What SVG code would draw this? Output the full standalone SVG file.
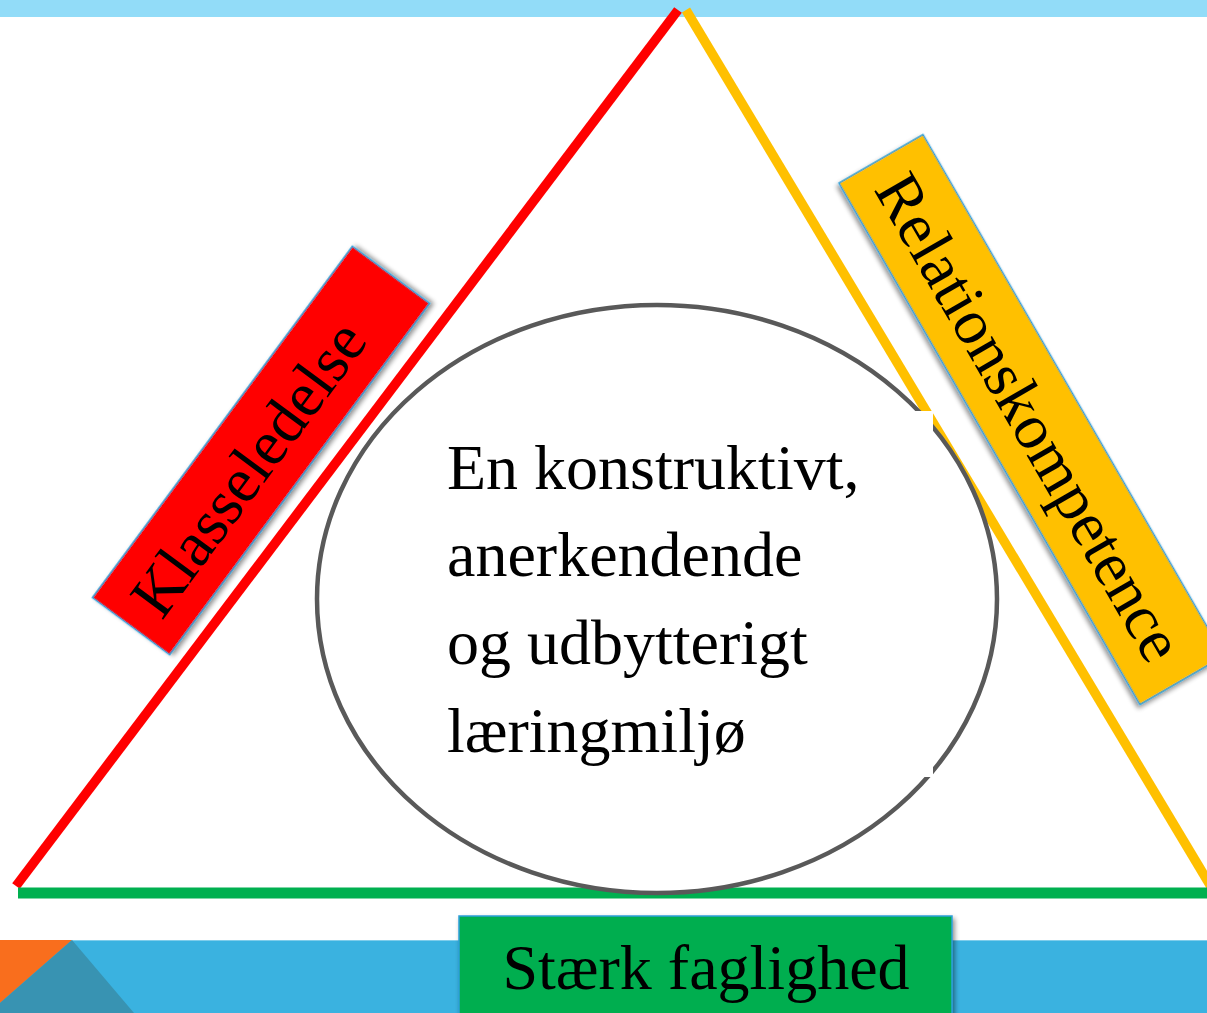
<svg xmlns="http://www.w3.org/2000/svg" width="1207" height="1013" viewBox="0 0 1207 1013">
  <defs>
    <filter id="shadow" x="-10%" y="-10%" width="130%" height="130%">
      <feGaussianBlur in="SourceAlpha" stdDeviation="2.5"/>
      <feOffset dx="2" dy="3" result="b"/>
      <feComponentTransfer><feFuncA type="linear" slope="0.45"/></feComponentTransfer>
      <feMerge><feMergeNode/><feMergeNode in="SourceGraphic"/></feMerge>
    </filter>
  </defs>
  <style>
    .lbl { font-family: "Liberation Serif", "Times New Roman", serif; font-size: 64px; fill: #000000; }
    .box { stroke: #2E9FD9; stroke-width: 1.5; }
    .side { fill: none; stroke-linecap: butt; }
  </style>
  <rect x="0" y="0" width="1207" height="1013" fill="#FFFFFF"/>
  <g id="background">
    <rect x="0" y="0" width="1207" height="17" fill="#92DCF8"/>
    <rect x="0" y="940" width="1207" height="73" fill="#3AB2E0"/>
    <line x1="0" y1="940.5" x2="1207" y2="940.5" stroke="#7FCDEB" stroke-width="1"/>
    <polygon points="0,940 72,940 0,1003" fill="#F96E1D"/>
    <polygon points="72,940 134,1013 0,1013 0,1003" fill="#3893B2"/>
  </g>
  <g id="connectors">
    <line class="side" x1="678" y1="10" x2="16" y2="886" stroke="#FF0000" stroke-width="9.5"/>
    <line class="side" x1="686" y1="10" x2="1213" y2="890" stroke="#FFC000" stroke-width="9.5"/>
    <line class="side" x1="18" y1="893" x2="1207" y2="893" stroke="#00B050" stroke-width="11"/>
  </g>
  <g id="center-node">
    <ellipse cx="657" cy="599" rx="340" ry="294" fill="#FFFFFF" stroke="#595959" stroke-width="4.5"/>
    <rect x="435" y="411" width="498" height="366" fill="#FFFFFF"/>
    <text class="lbl" x="447">
      <tspan x="447" y="489">En konstruktivt,</tspan>
      <tspan x="447" y="576">anerkendende</tspan>
      <tspan x="447" y="664">og udbytterigt</tspan>
      <tspan x="447" y="752">læringmiljø</tspan>
    </text>
  </g>
  <g id="klasseledelse" transform="translate(261 450.5) rotate(-53.5)">
    <rect class="box" x="-218.5" y="-48" width="437" height="96" fill="#FF0000" filter="url(#shadow)"/>
    <text class="lbl" x="-22" y="22" text-anchor="middle">Klasseledelse</text>
  </g>
  <g id="relationskompetence" transform="translate(1031.5 419.5) rotate(60)">
    <rect class="box" x="-301" y="-48.5" width="602" height="97" fill="#FFC000" filter="url(#shadow)"/>
    <text class="lbl" x="-3" y="22" text-anchor="middle">Relationskompetence</text>
  </g>
  <g id="staerk-faglighed">
    <rect class="box" x="459" y="916" width="493" height="110" fill="#00AE50" filter="url(#shadow)"/>
    <text class="lbl" x="706" y="989" text-anchor="middle">Stærk faglighed</text>
  </g>
</svg>
